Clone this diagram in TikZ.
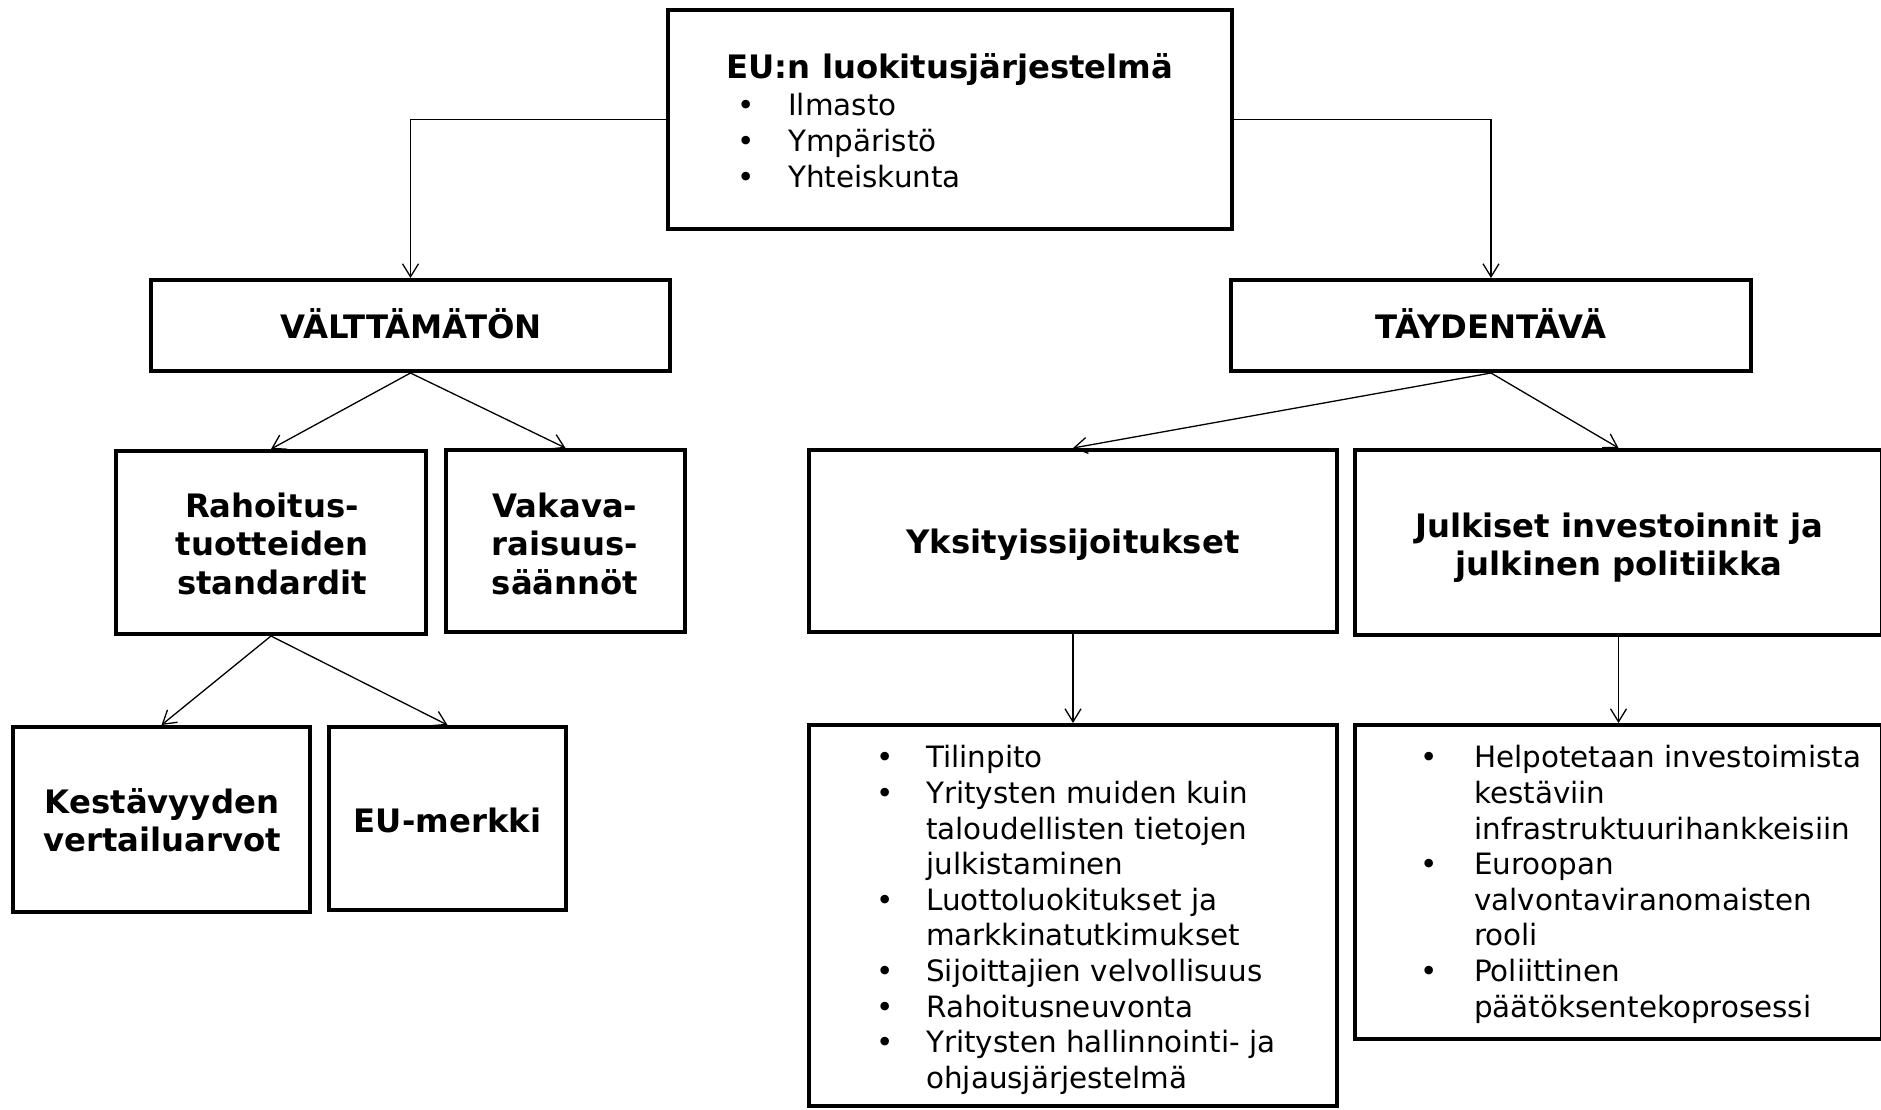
\documentclass[tikz,border=0pt]{standalone}
\usepackage{fontspec}
\setmainfont{DejaVu Sans}
\usetikzlibrary{arrows.meta}
\newcommand\bul[1]{\llap{\makebox[#1][c]{•}}}
\begin{document}
\begin{tikzpicture}[x=1pt,y=-1pt,
  box/.style={draw, line width=4pt, inner sep=0pt},
  conn/.style={line width=1.3pt, -{Straight Barb[length=13pt,width=16pt,line width=1.3pt]}},
  bl/.style={font=\bfseries\fontsize{32.3}{38.5}\selectfont, align=center, inner sep=0pt},
  lst/.style={font=\fontsize{29.4}{35.6}\selectfont, align=left, anchor=north west, inner sep=0pt}]
\useasboundingbox (0,0) rectangle (1881,1109);
% boxes
\node[box, minimum width=564pt, minimum height=219pt] (top) at (950,119.5) {};
\node[box, minimum width=519pt, minimum height=91pt] (valt) at (410.5,325.5) {};
\node[box, minimum width=520pt, minimum height=91pt] (tayd) at (1491,325.5) {};
\node[box, minimum width=310pt, minimum height=183pt] (rah) at (271,542.5) {};
\node[box, minimum width=239pt, minimum height=182pt] (vak) at (565.5,541) {};
\node[box, minimum width=297pt, minimum height=185pt] (kes) at (161.5,819.5) {};
\node[box, minimum width=237pt, minimum height=183pt] (eum) at (447.5,818.5) {};
\node[box, minimum width=528pt, minimum height=182pt] (yks) at (1073,541) {};
\node[box, minimum width=527pt, minimum height=185pt] (jul) at (1618.5,542.5) {};
\node[box, minimum width=528pt, minimum height=381pt] (lst1) at (1073,915.5) {};
\node[box, minimum width=527pt, minimum height=314pt] (lst2) at (1618.5,882) {};
% labels
\node[bl] (ttl) at (950,71) {\strut EU:n luokitusjärjestelmä\strut};
\node[lst, font=\fontsize{29.4}{36}\selectfont] (toplist) at (788,89.6) {\strut\bul{84pt}Ilmasto\\ \bul{84pt}Ympäristö\\ \bul{84pt}Yhteiskunta};
\node[bl] (valtl) at (411,329) {\strut VÄLTTÄMÄTÖN\strut};
\node[bl] (taydl) at (1491,329) {\strut TÄYDENTÄVÄ\strut};
\node[bl] (rahl) at (272,548) {\strut Rahoitus-\\tuotteiden\\standardit\strut};
\node[bl] (vakl) at (565,548) {\strut Vakava-\\raisuus-\\säännöt\strut};
\node[bl] (kesl) at (162,825) {\strut Kestävyyden\\vertailuarvot\strut};
\node[bl] (euml) at (447.5,825) {\strut EU-merkki\strut};
\node[bl] (yksl) at (1073,546) {\strut Yksityissijoitukset\strut};
\node[bl] (jull) at (1619,549) {\strut Julkiset investoinnit ja\\julkinen politiikka\strut};
\node[lst] (list1) at (926,742.85) {\strut\bul{83pt}Tilinpito\\
\bul{83pt}Yritysten muiden kuin\\
taloudellisten tietojen\\
julkistaminen\\
\bul{83pt}Luottoluokitukset ja\\
markkinatutkimukset\\
\bul{83pt}Sijoittajien velvollisuus\\
\bul{83pt}Rahoitusneuvonta\\
\bul{83pt}Yritysten hallinnointi- ja\\
ohjausjärjestelmä};
\node[lst] (list2) at (1474,742.85) {\strut\bul{90pt}Helpotetaan investoimista\\
kestäviin\\
infrastruktuurihankkeisiin\\
\bul{90pt}Euroopan\\
valvontaviranomaisten\\
rooli\\
\bul{90pt}Poliittinen\\
päätöksentekoprosessi};
% connectors
\draw[conn] (top.west) -| (valt.north);
\draw[conn] (top.east) -| (tayd.north);
\draw[conn] (valt.south) -- (rah.north);
\draw[conn] (valt.south) -- (vak.north);
\draw[conn] (rah.south) -- (kes.north);
\draw[conn] (rah.south) -- (eum.north);
\draw[conn] (tayd.south) -- (yks.north);
\draw[conn] (tayd.south) -- (jul.north);
\draw[conn] (yks.south) -- (lst1.north);
\draw[conn] (jul.south) -- (lst2.north);
\end{tikzpicture}
\end{document}
